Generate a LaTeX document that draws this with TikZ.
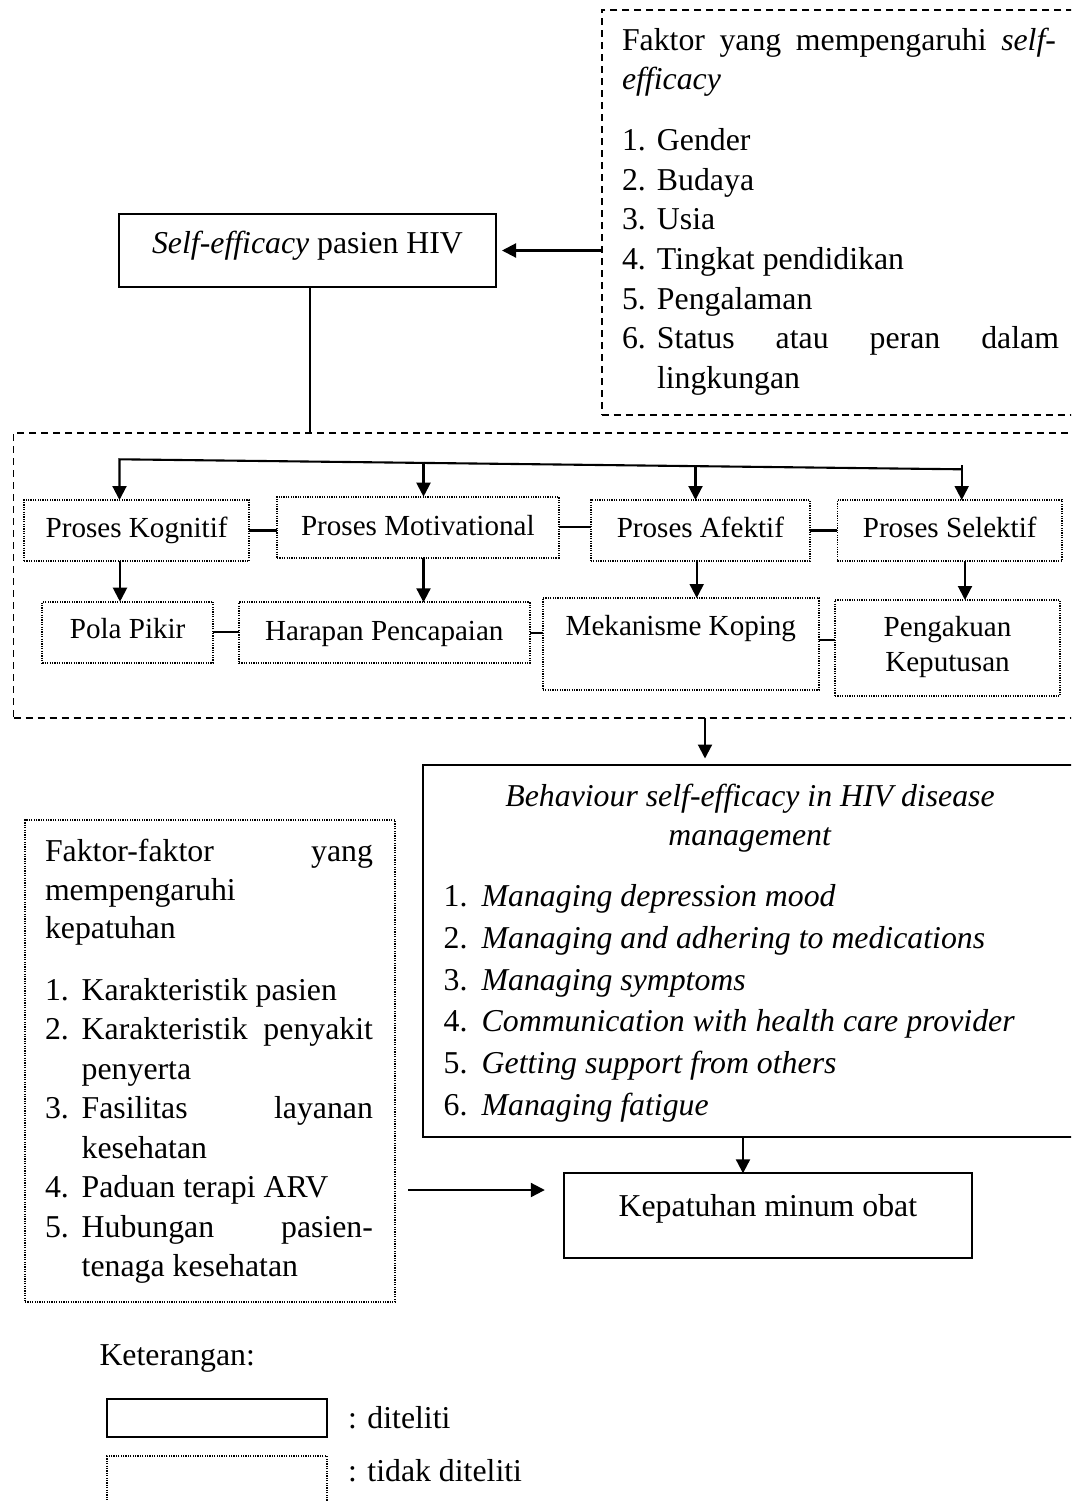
\documentclass[tikz,border=0pt]{standalone}
\usepackage{fontspec}
\setmainfont{Liberation Serif}
\usetikzlibrary{arrows.meta}
\newcommand{\tbox}[5]{\parbox[c][#2][t]{#1}{\lineskiplimit=-100pt #4\par\vspace*{\dimexpr#3-30pt\relax}\rule{0pt}{30pt}#5\par}}
\begin{document}
\begin{tikzpicture}[x=1pt,y=-1pt,
  every node/.style={inner sep=0pt, outer sep=0pt},
  big/.style={font=\fontsize{31.8pt}{39.6pt}\selectfont},
  small/.style={font=\fontsize{29.1pt}{35pt}\selectfont},
  solidbox/.style={draw, line width=1.8pt, anchor=north west},
  dashbox/.style={draw, line width=1.6pt, dash pattern=on 7pt off 5pt, anchor=north west},
  dotbox/.style={draw, line width=1.7pt, dash pattern=on 1.2pt off 1.2pt, anchor=north west},
  arr/.style={line width=2.1pt, -{Triangle[length=14pt,width=14pt]}},
  conn/.style={line width=2.1pt},
  lbl/.style={big, anchor=base west}]
\path[use as bounding box, clip] (0,0) rectangle (1071,1501);

% factors of self-efficacy
\node[dashbox, big] (A) at (601.7,10) {\tbox{483.3pt}{405pt}{40pt}{\leftskip=20.3pt}{%
\makebox[434pt][s]{Faktor yang mempengaruhi \textit{self-}}\\
\textit{efficacy}\\[21.5pt]
\makebox[35pt][l]{1.}Gender\\
\makebox[35pt][l]{2.}Budaya\\
\makebox[35pt][l]{3.}Usia\\
\makebox[35pt][l]{4.}Tingkat pendidikan\\
\makebox[35pt][l]{5.}Pengalaman\\
\makebox[35pt][l]{6.}\makebox[402pt][s]{Status atau peran dalam}\\
\hspace*{35pt}lingkungan}};

\node[solidbox, big] (B) at (119,214) {\tbox{377pt}{73pt}{39pt}{\centering}{\textit{Self-efficacy} pasien HIV}};

% big dashed frame
\node[dashbox, minimum width=1075pt, minimum height=284.7pt] (C) at (13.5,433) {};

% process boxes
\node[dotbox, small] (P1) at (24,500) {\tbox{225.3pt}{61pt}{37pt}{\centering}{Proses Kognitif}};
\node[dotbox, small] (P2) at (277,496.7) {\tbox{281.7pt}{61pt}{38.3pt}{\centering}{Proses Motivational}};
\node[dotbox, small] (P3) at (590.8,500) {\tbox{219.2pt}{61pt}{37pt}{\centering}{Proses Afektif}};
\node[dotbox, small] (P4) at (837.4,500) {\tbox{224.6pt}{61pt}{37pt}{\centering}{Proses Selektif}};

\node[dotbox, small] (R1) at (42.3,601.7) {\tbox{170.7pt}{61pt}{36.6pt}{\centering}{Pola Pikir}};
\node[dotbox, small] (R2) at (239,602.3) {\tbox{290.7pt}{61pt}{37.7pt}{\centering}{Harapan Pencapaian}};
\node[dotbox, small] (R3) at (542.7,598) {\tbox{276.3pt}{92pt}{37pt}{\centering}{Mekanisme Koping}};
\node[dotbox, small] (R4) at (835,600) {\tbox{225pt}{96pt}{36.7pt}{\centering}{Pengakuan\\Keputusan}};

% behaviour box
\node[solidbox, big] (D) at (422.6,765) {\tbox{662.4pt}{372.3pt}{41pt}{\leftskip=21.1pt\baselineskip=39pt}{%
\makebox[612.6pt][c]{\textit{Behaviour self-efficacy in HIV disease}}\\
\makebox[612.6pt][c]{\textit{management}}\par
\baselineskip=41.7pt\vspace{20pt}%
\makebox[38pt][l]{1.}\textit{Managing depression mood}\\
\makebox[38pt][l]{2.}\textit{Managing and adhering to medications}\\
\makebox[38pt][l]{3.}\textit{Managing symptoms}\\
\makebox[38pt][l]{4.}\textit{Communication with health care provider}\\
\makebox[38pt][l]{5.}\textit{Getting support from others}\\
\makebox[38pt][l]{6.}\textit{Managing fatigue}}};

\node[solidbox, big] (E) at (563.8,1173.3) {\tbox{408.2pt}{84.4pt}{42.7pt}{\centering}{Kepatuhan minum obat}};

% adherence factors
\node[dotbox, big] (F) at (25,820) {\tbox{370pt}{481.7pt}{41.7pt}{\leftskip=20pt\baselineskip=38.3pt}{%
\makebox[328pt][s]{Faktor-faktor yang}\\
mempengaruhi\\
kepatuhan\par
\baselineskip=39.5pt\vspace{22.2pt}%
\makebox[36.7pt][l]{1.}Karakteristik pasien\\
\makebox[36.7pt][l]{2.}\makebox[291.3pt][s]{Karakteristik penyakit}\\
\hspace*{36.7pt}penyerta\\
\makebox[36.7pt][l]{3.}\makebox[291.3pt][s]{Fasilitas layanan}\\
\hspace*{36.7pt}kesehatan\\
\makebox[36.7pt][l]{4.}Paduan terapi ARV\\
\makebox[36.7pt][l]{5.}\makebox[291.3pt][s]{Hubungan pasien-}\\
\hspace*{36.7pt}tenaga kesehatan}};

% legend
\node[lbl] (ket) at (99.5,1365) {Keterangan:};
\node[solidbox, minimum width=219.4pt, minimum height=38pt] (L1) at (107.3,1399.3) {};
\node[lbl] (L1t) at (348,1428) {: diteliti};
\node[dotbox, minimum width=219.4pt, minimum height=70pt] (L2) at (107.3,1456) {};
\node[lbl] (L2t) at (348,1481.7) {: tidak diteliti};

% connectors
\draw[arr, shorten >=6pt] (B.east -| A.west) -- (B.east);
\coordinate (bc) at (310,0);
\draw[line width=1.6pt] (B.south -| bc) -- (C.north -| bc);

\coordinate (c1) at (119.5,459.3);
\coordinate (c2) at (423.5,461.5);
\coordinate (c3) at (695.5,466.1);
\coordinate (c4) at (961.7,469.3);
\coordinate (c4t) at (961.7,465);
\draw[arr] (c4) -- (c1) -- (c1 |- P1.north);
\draw[arr] (c2) -- (c2 |- P2.north);
\draw[arr] (c3) -- (c3 |- P3.north);
\draw[arr] (c4t) -- (c4t |- P4.north);

\draw[conn] (P1.east) -- (P1.east -| P2.west);
\draw[conn] (P2.east) -- (P2.east -| P3.west);
\draw[conn] (P3.east) -- (P3.east -| P4.west);

\coordinate (d1) at (120,0);
\coordinate (d2) at (423.5,0);
\coordinate (d3) at (696.7,0);
\coordinate (d4) at (965,0);
\draw[arr] (P1.south -| d1) -- (R1.north -| d1);
\draw[arr] (P2.south -| d2) -- (R2.north -| d2);
\draw[arr] (P3.south -| d3) -- (R3.north -| d3);
\draw[arr] (P4.south -| d4) -- (R4.north -| d4);

\draw[conn] (R1.east) -- (R1.east -| R2.west);
\draw[conn] (R2.east) -- (R2.east -| R3.west);
\coordinate (r34) at (0,640);
\draw[conn] (r34 -| R3.east) -- (r34 -| R4.west);

\coordinate (cd) at (705,0);
\draw[arr, shorten >=6.5pt] (C.south -| cd) -- (D.north -| cd);
\coordinate (de) at (743,0);
\draw[arr] (D.south -| de) -- (E.north -| de);
\coordinate (fe) at (0,1190);
\draw[arr, shorten <=13pt, shorten >=19pt] (fe -| F.east) -- (fe -| E.west);
\end{tikzpicture}
\end{document}
